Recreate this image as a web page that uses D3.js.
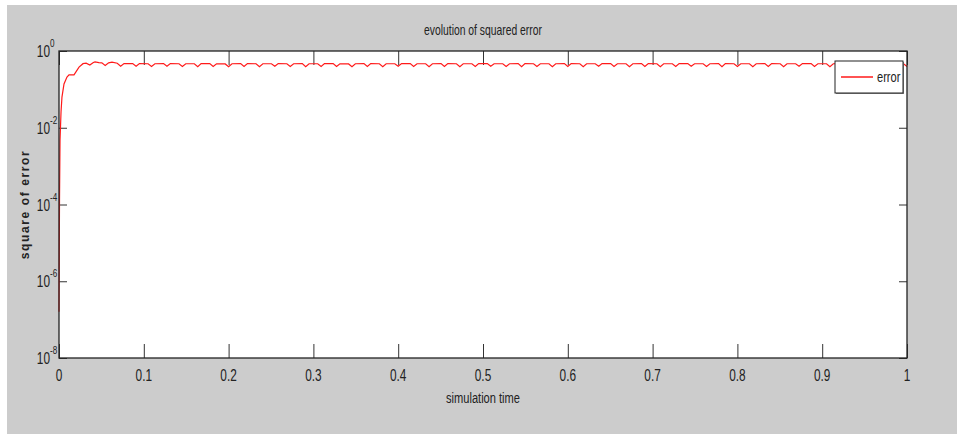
<!DOCTYPE html>
<html>
<head>
<meta charset="utf-8">
<title>evolution of squared error</title>
<script src="https://cdn.jsdelivr.net/npm/d3@7"></script>
<style>
	body { margin: 0; background: #fff; }
	text { font-family: "Liberation Sans", Arial, sans-serif; fill: #222; }
	.ylab { font-weight: bold; }
</style>
</head>
<body>
<svg width="957" height="434"></svg>
<script>
// simulation time samples
var time = [
	0, 0.0006, 0.0012, 0.0024, 0.0035, 0.0059, 0.0094, 0.0118, 0.0177, 0.0236, 0.0283, 0.032,
	0.0364, 0.0405, 0.0425, 0.047, 0.0505,
	0.0545, 0.0585, 0.0625, 0.0687,
	0.0727, 0.0767, 0.0869,
	0.0909, 0.0949, 0.1051,
	0.1091, 0.1131, 0.1233,
	0.1273, 0.1313, 0.1415,
	0.1455, 0.1495, 0.1596,
	0.1636, 0.1676, 0.1778,
	0.1818, 0.1858, 0.1960,
	0.2000, 0.2040, 0.2142,
	0.2182, 0.2222, 0.2324,
	0.2364, 0.2404, 0.2505,
	0.2545, 0.2585, 0.2687,
	0.2727, 0.2767, 0.2869,
	0.2909, 0.2949, 0.3051,
	0.3091, 0.3131, 0.3233,
	0.3273, 0.3313, 0.3415,
	0.3455, 0.3495, 0.3596,
	0.3636, 0.3676, 0.3778,
	0.3818, 0.3858, 0.3960,
	0.4000, 0.4040, 0.4142,
	0.4182, 0.4222, 0.4324,
	0.4364, 0.4404, 0.4505,
	0.4545, 0.4585, 0.4687,
	0.4727, 0.4767, 0.4869,
	0.4909, 0.4949, 0.5051,
	0.5091, 0.5131, 0.5233,
	0.5273, 0.5313, 0.5415,
	0.5455, 0.5495, 0.5596,
	0.5636, 0.5676, 0.5778,
	0.5818, 0.5858, 0.5960,
	0.6000, 0.6040, 0.6142,
	0.6182, 0.6222, 0.6324,
	0.6364, 0.6404, 0.6505,
	0.6545, 0.6585, 0.6687,
	0.6727, 0.6767, 0.6869,
	0.6909, 0.6949, 0.7051,
	0.7091, 0.7131, 0.7233,
	0.7273, 0.7313, 0.7415,
	0.7455, 0.7495, 0.7596,
	0.7636, 0.7676, 0.7778,
	0.7818, 0.7858, 0.7960,
	0.8000, 0.8040, 0.8142,
	0.8182, 0.8222, 0.8324,
	0.8364, 0.8404, 0.8505,
	0.8545, 0.8585, 0.8687,
	0.8727, 0.8767, 0.8869,
	0.8909, 0.8949, 0.9051,
	0.9091, 0.9131, 0.9233,
	0.9273, 0.9313, 0.9415,
	0.9455, 0.9495, 0.9596,
	0.9636, 0.9676, 0.9778,
	0.9818, 0.9858, 0.9960,
	1.0000
];

// squared error at each sample
var sqError = [
	1.6e-7, 1.3e-4, 4.8e-3, 0.026, 0.063, 0.138, 0.21, 0.24, 0.24, 0.38, 0.467, 0.48,
	0.43, 0.50, 0.52, 0.50, 0.49,
	0.42, 0.49, 0.51, 0.48,
	0.40, 0.47, 0.47,
	0.40, 0.47, 0.465,
	0.395, 0.465, 0.47,
	0.40, 0.47, 0.465,
	0.395, 0.465, 0.465,
	0.39, 0.47, 0.47,
	0.395, 0.465, 0.46,
	0.39, 0.465, 0.47,
	0.395, 0.47, 0.465,
	0.39, 0.465, 0.465,
	0.40, 0.47, 0.465,
	0.395, 0.465, 0.47,
	0.39, 0.465, 0.465,
	0.395, 0.47, 0.47,
	0.395, 0.465, 0.46,
	0.39, 0.465, 0.47,
	0.395, 0.47, 0.465,
	0.39, 0.465, 0.465,
	0.40, 0.47, 0.47,
	0.395, 0.465, 0.465,
	0.39, 0.465, 0.47,
	0.395, 0.47, 0.465,
	0.39, 0.465, 0.465,
	0.395, 0.47, 0.47,
	0.40, 0.465, 0.465,
	0.395, 0.465, 0.47,
	0.39, 0.47, 0.465,
	0.395, 0.465, 0.465,
	0.39, 0.465, 0.47,
	0.395, 0.47, 0.465,
	0.39, 0.465, 0.465,
	0.40, 0.47, 0.47,
	0.395, 0.465, 0.465,
	0.39, 0.465, 0.47,
	0.395, 0.47, 0.465,
	0.39, 0.465, 0.465,
	0.395, 0.47, 0.47,
	0.40, 0.465, 0.465,
	0.395, 0.465, 0.47,
	0.39, 0.47, 0.465,
	0.395, 0.465, 0.465,
	0.39, 0.465, 0.47,
	0.395, 0.47, 0.465,
	0.39, 0.465, 0.465,
	0.40, 0.47, 0.47,
	0.395, 0.465, 0.465,
	0.39, 0.465, 0.47,
	0.395, 0.47, 0.465,
	0.39, 0.465, 0.465,
	0.395, 0.47, 0.47,
	0.40, 0.465, 0.465,
	0.395, 0.465, 0.47,
	0.39, 0.47, 0.465,
	0.395, 0.465, 0.465,
	0.39, 0.465, 0.47,
	0.395, 0.47, 0.465,
	0.39, 0.465, 0.465,
	0.39
];

var xTicks = [0, 0.1, 0.2, 0.3, 0.4, 0.5, 0.6, 0.7, 0.8, 0.9, 1];
var xTickLabels = ['0', '0.1', '0.2', '0.3', '0.4', '0.5', '0.6', '0.7', '0.8', '0.9', '1'];
var yTicks = [1e-8, 1e-6, 1e-4, 1e-2, 1];
var yExponents = ['-8', '-6', '-4', '-2', '0'];

var svg = d3.select('svg');
var W = 957, H = 434;
var m = { left: 59, top: 51, right: 907, bottom: 358 };
var squeeze = 0.74; // narrow glyphs like the original figure font

// text placed at x,y and squeezed horizontally
function narrowText(parent, tx, ty, size, anchor, str) {
	return parent.append('text')
		.attr('transform', 'translate(' + tx + ',' + ty + ') scale(' + squeeze + ',1)')
		.attr('text-anchor', anchor)
		.style('font-size', size + 'px')
		.text(str);
}

// grey figure background
svg.append('rect')
	.attr('x', 7).attr('y', 5)
	.attr('width', W - 7).attr('height', H - 5)
	.attr('fill', '#cccccc');

var x = d3.scaleLinear().domain([0, 1]).range([m.left, m.right]);
var y = d3.scaleLog().domain([1e-8, 1]).range([m.bottom, m.top]);

// plot area
svg.append('rect')
	.attr('x', m.left).attr('y', m.top)
	.attr('width', m.right - m.left).attr('height', m.bottom - m.top)
	.attr('fill', '#fff');

// ticks on all four sides, pointing inwards
function styleAxis(g) {
	g.select('.domain').remove();
	g.selectAll('.tick line').attr('stroke', '#333');
}

svg.append('g')
	.attr('transform', 'translate(0,' + m.bottom + ')')
	.call(d3.axisTop(x).tickValues(xTicks).tickSize(14).tickFormat(''))
	.call(styleAxis);
svg.append('g')
	.attr('transform', 'translate(0,' + m.top + ')')
	.call(d3.axisBottom(x).tickValues(xTicks).tickSize(14).tickFormat(''))
	.call(styleAxis);
svg.append('g')
	.attr('transform', 'translate(' + m.left + ',0)')
	.call(d3.axisRight(y).tickValues(yTicks).tickSize(8).tickFormat(''))
	.call(styleAxis);
svg.append('g')
	.attr('transform', 'translate(' + m.right + ',0)')
	.call(d3.axisLeft(y).tickValues(yTicks).tickSize(8).tickFormat(''))
	.call(styleAxis);

// x tick labels
var xl = svg.append('g');
xTicks.forEach(function(d, i) {
	narrowText(xl, x(d), m.bottom + 23, 16, 'middle', xTickLabels[i]);
});

// y tick labels: 10 with superscript exponent
var yl = svg.append('g');
yTicks.forEach(function(d, i) {
	narrowText(yl, m.left - 9, y(d) + 6, 16, 'end', '10');
	narrowText(yl, m.left - 9, y(d) - 4, 11, 'start', yExponents[i]);
});

// the error curve
var line = d3.line()
	.x(function(d, i) { return x(time[i]); })
	.y(function(d) { return y(d); });

svg.append('path')
	.datum(sqError)
	.attr('d', line)
	.attr('fill', 'none')
	.attr('stroke', '#ff1a1a')
	.attr('stroke-width', 1.2);

// axes box
svg.append('rect')
	.attr('x', m.left).attr('y', m.top)
	.attr('width', m.right - m.left).attr('height', m.bottom - m.top)
	.attr('fill', 'none')
	.attr('stroke', '#222')
	.attr('stroke-width', 1.3);

// legend
var lg = svg.append('g').attr('transform', 'translate(835,61)');
lg.append('rect')
	.attr('x', 1).attr('y', 1)
	.attr('width', 68).attr('height', 32)
	.attr('fill', '#888');
lg.append('rect')
	.attr('width', 68).attr('height', 32)
	.attr('fill', '#fff')
	.attr('stroke', '#222');
lg.append('line')
	.attr('x1', 6).attr('x2', 38)
	.attr('y1', 16).attr('y2', 16)
	.attr('stroke', '#ff1a1a')
	.attr('stroke-width', 1.5);
narrowText(lg, 42, 21, 15, 'start', 'error');

// titles
narrowText(svg, (m.left + m.right) / 2, 35, 14, 'middle', 'evolution of squared error');
narrowText(svg, (m.left + m.right) / 2, 403, 15, 'middle', 'simulation time');

svg.append('text')
	.attr('class', 'ylab')
	.attr('transform', 'translate(29,' + ((m.top + m.bottom) / 2) + ') rotate(-90)')
	.attr('text-anchor', 'middle')
	.style('font-size', '12px')
	.style('letter-spacing', '1.6px')
	.text('square of error');
</script>
</body>
</html>
